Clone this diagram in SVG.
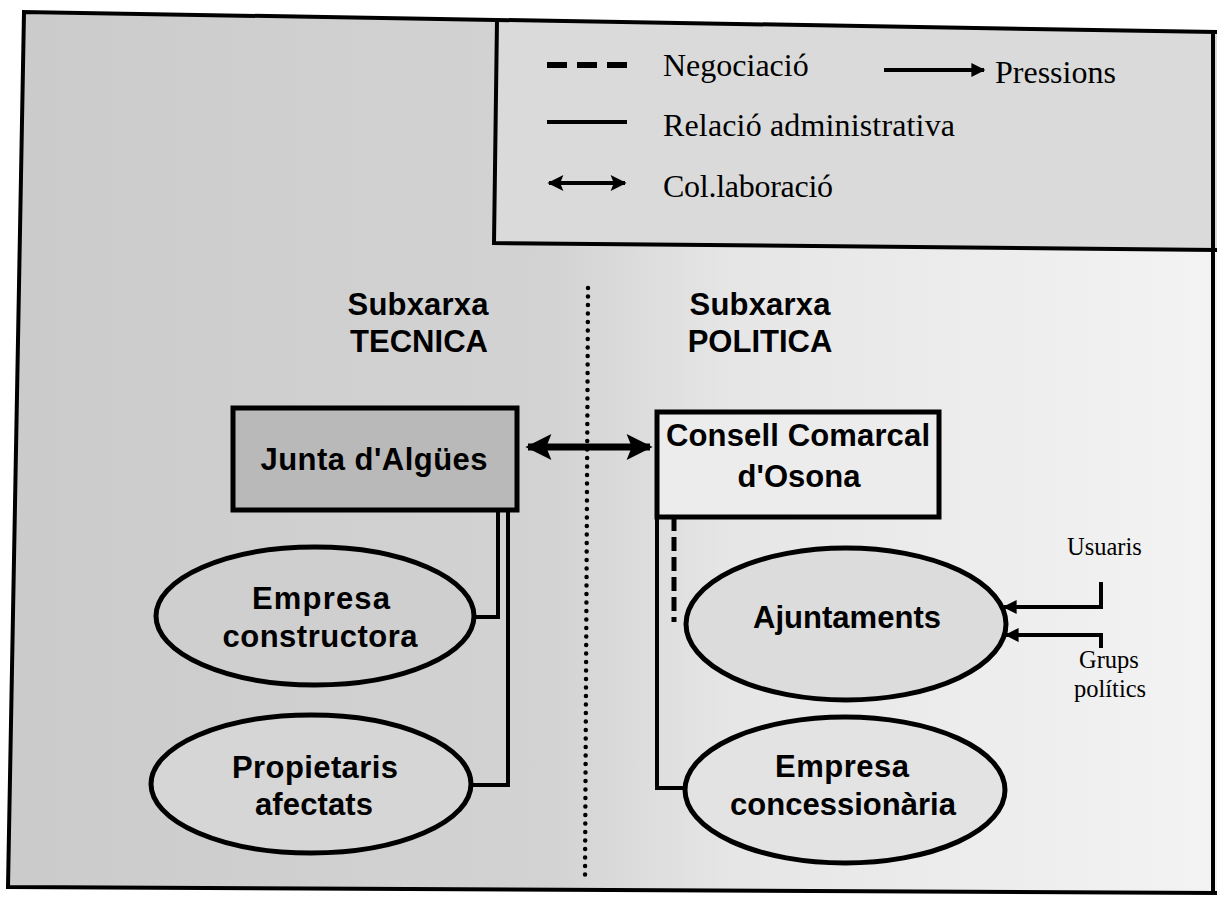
<svg xmlns="http://www.w3.org/2000/svg" width="1217" height="900" viewBox="0 0 1217 900">
<defs>
<linearGradient id="bg" x1="0" y1="0" x2="1" y2="0">
<stop offset="0" stop-color="#cbcbcb"/>
<stop offset="0.45" stop-color="#d3d3d3"/>
<stop offset="0.6" stop-color="#e6e6e6"/>
<stop offset="1" stop-color="#f3f3f3"/>
</linearGradient>
<marker id="ah" viewBox="0 0 10 10" refX="9" refY="5" markerWidth="28" markerHeight="26" markerUnits="userSpaceOnUse" orient="auto-start-reverse">
<path d="M0,0 L10,5 L0,10 L2,5 Z" fill="#000"/>
</marker>
<marker id="ahm" viewBox="0 0 10 10" refX="9" refY="5" markerWidth="22" markerHeight="16" markerUnits="userSpaceOnUse" orient="auto-start-reverse">
<path d="M0,0 L10,5 L0,10 L2,5 Z" fill="#000"/>
</marker>
<marker id="ahs" viewBox="0 0 10 10" refX="9" refY="5" markerWidth="24" markerHeight="14" markerUnits="userSpaceOnUse" orient="auto">
<path d="M0,0 L10,5 L0,10 Z" fill="#000"/>
</marker>
</defs>
<style>
.frame{fill:none;stroke:#000;stroke-width:4}
.node{stroke:#000;stroke-width:5}
.lbl{font-family:"Liberation Sans",Arial,sans-serif;font-weight:bold;fill:#000;text-anchor:middle;font-size:31px}
.ser{font-family:"Liberation Serif","Times New Roman",serif;fill:#000}
.leg{font-size:32px}
.small{font-size:24.5px}
.conn{fill:none;stroke:#000;stroke-width:4}
.dash{fill:none;stroke:#000;stroke-width:5;stroke-dasharray:14 6}
.thick{fill:none;stroke:#000;stroke-width:7}
</style>
<rect width="1217" height="900" fill="#fff"/>
<polygon points="24,12 1217,32 1217,893 8,887" fill="url(#bg)"/>
<polygon points="497,20 1217,32 1217,250 494,243" fill="#dadada"/>
<g id="frame">
<polyline class="frame" points="1217,32 24,12 8,887 1217,893"/>
<line class="frame" x1="1213" y1="32" x2="1213" y2="893"/>
<polyline class="frame" points="497,20 494,243 1217,250"/>
</g>
<g id="legend">
<line x1="547" y1="65" x2="627" y2="65" stroke="#000" stroke-width="6" stroke-dasharray="20 10"/>
<text class="ser leg" x="663" y="76">Negociació</text>
<line class="conn" stroke-width="5" x1="884" y1="70" x2="984" y2="70" marker-end="url(#ahs)"/>
<text class="ser leg" x="995" y="83">Pressions</text>
<line class="conn" stroke-width="6" x1="547" y1="122" x2="627" y2="122"/>
<text class="ser leg" x="663" y="136" textLength="292">Relació administrativa</text>
<line class="conn" stroke-width="5" x1="549" y1="183" x2="625" y2="183" marker-start="url(#ahm)" marker-end="url(#ahm)"/>
<text class="ser leg" x="663" y="197" textLength="170">Col.laboració</text>
</g>
<g id="divider">
<line x1="588" y1="288" x2="585" y2="880" stroke="#000" stroke-width="4.5" stroke-linecap="round" stroke-dasharray="0 8.5"/>
</g>
<g id="title-tecnica">
<text class="lbl" x="418" y="315" textLength="141">Subxarxa</text>
<text class="lbl" x="419" y="352" textLength="138">TECNICA</text>
</g>
<g id="title-politica">
<text class="lbl" x="760" y="315" textLength="141">Subxarxa</text>
<text class="lbl" x="760" y="352">POLITICA</text>
</g>
<g id="connectors">
<line class="thick" x1="528" y1="447" x2="650" y2="447" marker-start="url(#ah)" marker-end="url(#ah)"/>
<path class="conn" d="M498,510 V617 H474"/>
<path class="conn" d="M508,510 V785 H472"/>
<path class="dash" d="M674,517 V622"/>
<path class="conn" d="M657,517 V788 H686"/>
<path class="conn" d="M1101,582 V607 H1004" marker-end="url(#ahs)"/>
<path class="conn" d="M1101,648 V635 H1006" marker-end="url(#ahs)"/>
</g>
<g id="junta">
<rect class="node" x="233" y="408" width="284" height="102" fill="#b9b9b9"/>
<text class="lbl" x="374" y="470" font-size="32" textLength="227">Junta d'Algües</text>
</g>
<g id="consell">
<rect class="node" x="657" y="412" width="282" height="105" fill="#ececec"/>
<text class="lbl" x="798" y="446" textLength="264">Consell Comarcal</text>
<text class="lbl" x="799" y="487">d'Osona</text>
</g>
<g id="empresa-constructora">
<ellipse class="node" cx="315" cy="616" rx="159" ry="69" fill="#cfcfcf"/>
<text class="lbl" x="321" y="609" textLength="138">Empresa</text>
<text class="lbl" x="320" y="647" textLength="195">constructora</text>
</g>
<g id="propietaris">
<ellipse class="node" cx="311" cy="784" rx="160" ry="69" fill="#d6d6d6"/>
<text class="lbl" x="315" y="778" textLength="166">Propietaris</text>
<text class="lbl" x="314" y="815" textLength="118">afectats</text>
</g>
<g id="ajuntaments">
<ellipse class="node" cx="846" cy="624" rx="160" ry="76" fill="#dcdcdc"/>
<text class="lbl" x="847" y="628" textLength="188">Ajuntaments</text>
</g>
<g id="empresa-concessionaria">
<ellipse class="node" cx="845" cy="790" rx="160" ry="73" fill="#e3e3e3"/>
<text class="lbl" x="842" y="777" textLength="134">Empresa</text>
<text class="lbl" x="843" y="815" textLength="226">concessionària</text>
</g>
<g id="usuaris">
<text class="ser small" x="1067" y="555">Usuaris</text>
</g>
<g id="grups">
<text class="ser small" x="1079" y="668">Grups</text>
<text class="ser small" x="1074" y="697">polítics</text>
</g>
</svg>
